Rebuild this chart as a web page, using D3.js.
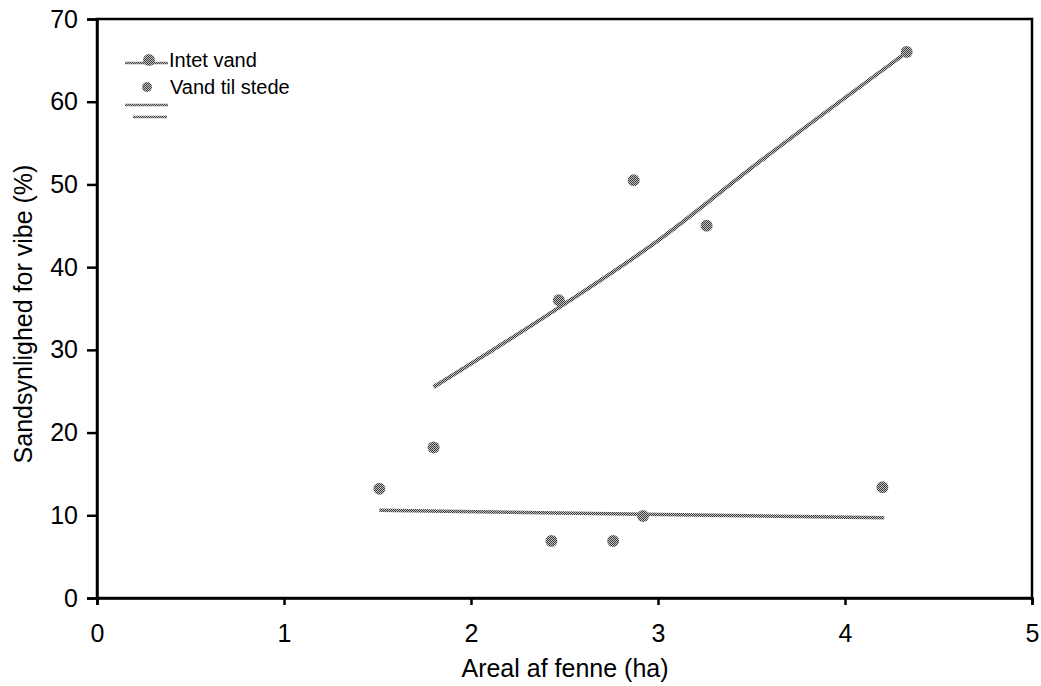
<!DOCTYPE html>
<html>
<head>
<meta charset="utf-8">
<script src="https://cdn.jsdelivr.net/npm/d3@7"></script>
<style>
  body { margin: 0; background: #fff; }
  text { font-family: "Liberation Sans", Arial, sans-serif; fill: #000; }
</style>
</head>
<body>
<div id="chart"></div>
<script>
// observed points, no water
const noWaterX = [1.51, 2.43, 2.76, 2.92, 4.20];
const noWaterY = [13.2, 6.9, 6.9, 9.9, 13.4];
// observed points, water present
const waterX = [1.80, 2.47, 2.87, 3.26, 4.33];
const waterY = [18.2, 36.0, 50.5, 45.0, 66.0];
// fitted curves
const fitNoWaterX = [1.51, 4.21];
const fitNoWaterY = [10.6, 9.7];
const fitWaterX = [1.80, 2.47, 3.00, 3.50, 4.32];
const fitWaterY = [25.5, 35.1, 43.2, 52.0, 65.8];

const xTicks = [0, 1, 2, 3, 4, 5];
const yTicks = [0, 10, 20, 30, 40, 50, 60, 70];
const legendLabels = ['Intet vand', 'Vand til stede'];

const W = 1041, H = 686;
const margin = {top: 19, right: 9, bottom: 88, left: 97};

const svg = d3.select('#chart')
    .append('svg')
    .attr('width', W)
    .attr('height', H);

// dithered grey like the scan
const defs = svg.append('defs');
const pat = defs.append('pattern')
    .attr('id', 'dither')
    .attr('patternUnits', 'userSpaceOnUse')
    .attr('width', 2)
    .attr('height', 2);
pat.append('rect').attr('width', 2).attr('height', 2).attr('fill', '#c4c4c4');
pat.append('rect').attr('width', 1).attr('height', 1).attr('fill', '#3a3a3a');
pat.append('rect').attr('x', 1).attr('y', 1).attr('width', 1).attr('height', 1).attr('fill', '#3a3a3a');

const x = d3.scaleLinear().domain([0, 5]).range([margin.left, W - margin.right]);
const y = d3.scaleLinear().domain([0, 70]).range([H - margin.bottom, margin.top]);

// frame
svg.append('rect')
    .attr('x', x(0))
    .attr('y', y(70))
    .attr('width', x(5) - x(0))
    .attr('height', y(0) - y(70))
    .attr('fill', 'none')
    .attr('stroke', '#000')
    .attr('stroke-width', 2.5);

const xAxis = svg.append('g')
    .attr('transform', `translate(0, ${y(0)})`)
    .call(d3.axisBottom(x).tickValues(xTicks).tickFormat(d3.format('d')).tickSize(7).tickPadding(19));
xAxis.select('.domain').attr('stroke-width', 2.5);
xAxis.selectAll('.tick line').attr('stroke-width', 2.5);
xAxis.selectAll('.tick text').style('font-size', '25px');

const yAxis = svg.append('g')
    .attr('transform', `translate(${x(0)}, 0)`)
    .call(d3.axisLeft(y).tickValues(yTicks).tickFormat(d3.format('d')).tickSize(10).tickPadding(9));
yAxis.select('.domain').attr('stroke-width', 2.5);
yAxis.selectAll('.tick line').attr('stroke-width', 2.5);
yAxis.selectAll('.tick text').style('font-size', '25px');

// axis titles
svg.append('text')
    .attr('x', 565)
    .attr('y', 677)
    .attr('text-anchor', 'middle')
    .style('font-size', '25px')
    .text('Areal af fenne (ha)');

svg.append('text')
    .attr('transform', 'translate(32, 314) rotate(-90)')
    .attr('text-anchor', 'middle')
    .style('font-size', '25px')
    .text('Sandsynlighed for vibe (%)');

// fitted lines
const line = d3.line()
    .x(d => x(d[0]))
    .y(d => y(d[1]))
    .curve(d3.curveMonotoneX);

svg.append('path')
    .datum(d3.zip(fitNoWaterX, fitNoWaterY))
    .attr('d', line)
    .attr('fill', 'none')
    .attr('stroke', 'url(#dither)')
    .attr('stroke-width', 3.5);

svg.append('path')
    .datum(d3.zip(fitWaterX, fitWaterY))
    .attr('d', line)
    .attr('fill', 'none')
    .attr('stroke', 'url(#dither)')
    .attr('stroke-width', 4);

// points
const allPts = d3.zip(noWaterX, noWaterY).concat(d3.zip(waterX, waterY));
svg.append('g')
    .selectAll('circle')
    .data(allPts)
    .join('circle')
    .attr('cx', d => x(d[0]))
    .attr('cy', d => y(d[1]))
    .attr('r', 6)
    .attr('fill', 'url(#dither)');

// legend
const lg = svg.append('g');
lg.append('line')
    .attr('x1', 125).attr('x2', 168).attr('y1', 63).attr('y2', 63)
    .attr('stroke', 'url(#dither)').attr('stroke-width', 2.5);
lg.append('circle').attr('cx', 149).attr('cy', 60).attr('r', 6).attr('fill', 'url(#dither)');
lg.append('text').attr('x', 169).attr('y', 67).style('font-size', '20px').text(legendLabels[0]);

lg.append('circle').attr('cx', 147).attr('cy', 87).attr('r', 5).attr('fill', 'url(#dither)');
lg.append('text').attr('x', 170).attr('y', 94).style('font-size', '20px').text(legendLabels[1]);

lg.append('line')
    .attr('x1', 125).attr('x2', 168).attr('y1', 105).attr('y2', 105)
    .attr('stroke', 'url(#dither)').attr('stroke-width', 2.5);
lg.append('line')
    .attr('x1', 133).attr('x2', 167).attr('y1', 117).attr('y2', 117)
    .attr('stroke', 'url(#dither)').attr('stroke-width', 2.5);
</script>
</body>
</html>
